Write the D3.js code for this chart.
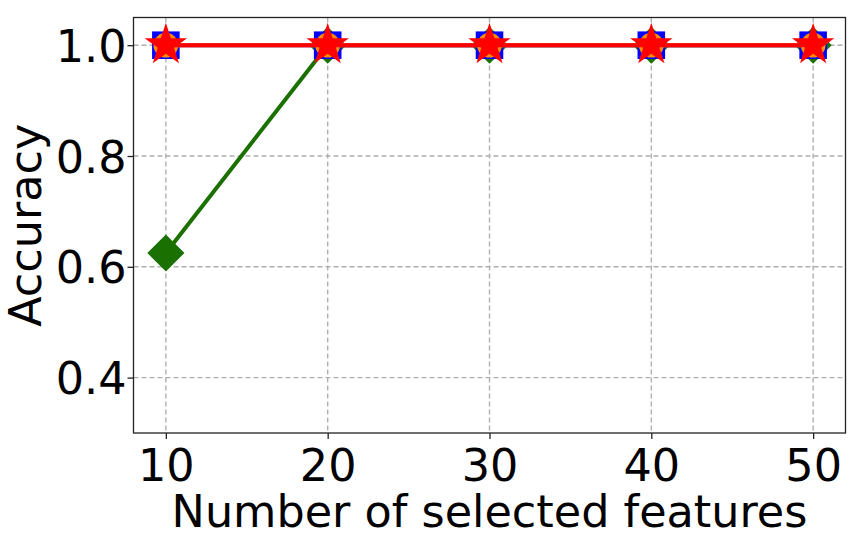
<!DOCTYPE html>
<html><head><meta charset="utf-8">
<script src="https://cdn.jsdelivr.net/npm/d3@7"></script>
<style>body{margin:0;background:#fff;} text{font-family:"DejaVu Sans",sans-serif;}</style>
</head><body>
<svg id="c" width="851" height="535"></svg>
<script>
const features = [10, 20, 30, 40, 50];
const greenDiamond = [0.625, 1.0, 1.0, 1.0, 1.0];
const blueSquare = [1.0, 1.0, 1.0, 1.0, 1.0];
const orangeCircle = [1.0, 1.0, 1.0, 1.0, 1.0];
const redStar = [1.0, 1.0, 1.0, 1.0, 1.0];
const xTicks = [10, 20, 30, 40, 50];
const yTicks = [0.4, 0.6, 0.8, 1.0];

const svg = d3.select("#c");
const L = 133.5, R = 845.5, T = 17.5, B = 433;
const FS = 44.5;
const x = d3.scaleLinear().domain([8, 52]).range([L, R]);
const y = d3.scaleLinear().domain([0.3, 1.05]).range([B, T]);

// grid
const g = svg.append("g");
g.selectAll(".gx").data(xTicks).enter().append("line")
  .attr("x1", d => x(d)).attr("x2", d => x(d)).attr("y1", T).attr("y2", B)
  .attr("stroke", "#b0b0b0").attr("stroke-width", 1.4).attr("stroke-dasharray", "5,3");
g.selectAll(".gy").data(yTicks).enter().append("line")
  .attr("y1", d => y(d)).attr("y2", d => y(d)).attr("x1", L).attr("x2", R)
  .attr("stroke", "#b0b0b0").attr("stroke-width", 1.4).attr("stroke-dasharray", "5,3");

// axes
const xa = svg.append("g").attr("transform", `translate(0,${B})`)
  .call(d3.axisBottom(x).tickValues(xTicks).tickSize(6).tickPadding(4).tickFormat(d3.format("d")));
const ya = svg.append("g").attr("transform", `translate(${L},0)`)
  .call(d3.axisLeft(y).tickValues(yTicks).tickSize(6).tickPadding(1).tickFormat(d3.format(".1f")));
[xa, ya].forEach(a => {
  a.attr("font-size", FS).attr("font-family", "DejaVu Sans");
  a.select(".domain").remove();
  a.selectAll("line").attr("stroke", "#222").attr("stroke-width", 1.3);
  a.selectAll("text").attr("font-size", FS).attr("fill", "#000");
});
xa.selectAll("text").attr("y", 48).attr("dy", null);
ya.selectAll("text").attr("dy", "0.36em");
svg.append("rect").attr("x", L).attr("y", T).attr("width", R - L).attr("height", B - T)
  .attr("fill", "none").attr("stroke", "#222").attr("stroke-width", 1.3);

const line = arr => d3.line().x((d, i) => x(features[i])).y(d => y(d))(arr);

function series(vals, color, sym, size, rot) {
  svg.append("path").attr("d", line(vals)).attr("fill", "none")
    .attr("stroke", color).attr("stroke-width", 4);
  svg.selectAll(null).data(vals).enter().append("path")
    .attr("d", d3.symbol().type(sym).size(size))
    .attr("transform", (d, i) => `translate(${x(features[i])},${y(d)}) rotate(${rot})`)
    .attr("fill", color);
}
series(greenDiamond, "#1a7000", d3.symbolSquare, 690, 45);
series(blueSquare, "#0000ff", d3.symbolSquare, 760, 0);
series(orangeCircle, "#ff8c00", d3.symbolCircle, 480, 0);
series(redStar, "#ff0000", d3.symbolStar, 560, 0);

svg.append("text").attr("x", (L + R) / 2).attr("y", 527).attr("text-anchor", "middle")
  .attr("font-size", FS).attr("fill", "#000").text("Number of selected features");
svg.append("text").attr("transform", `translate(41,${(T + B) / 2}) rotate(-90)`)
  .attr("text-anchor", "middle").attr("font-size", FS).attr("fill", "#000").text("Accuracy");
</script>
</body></html>
